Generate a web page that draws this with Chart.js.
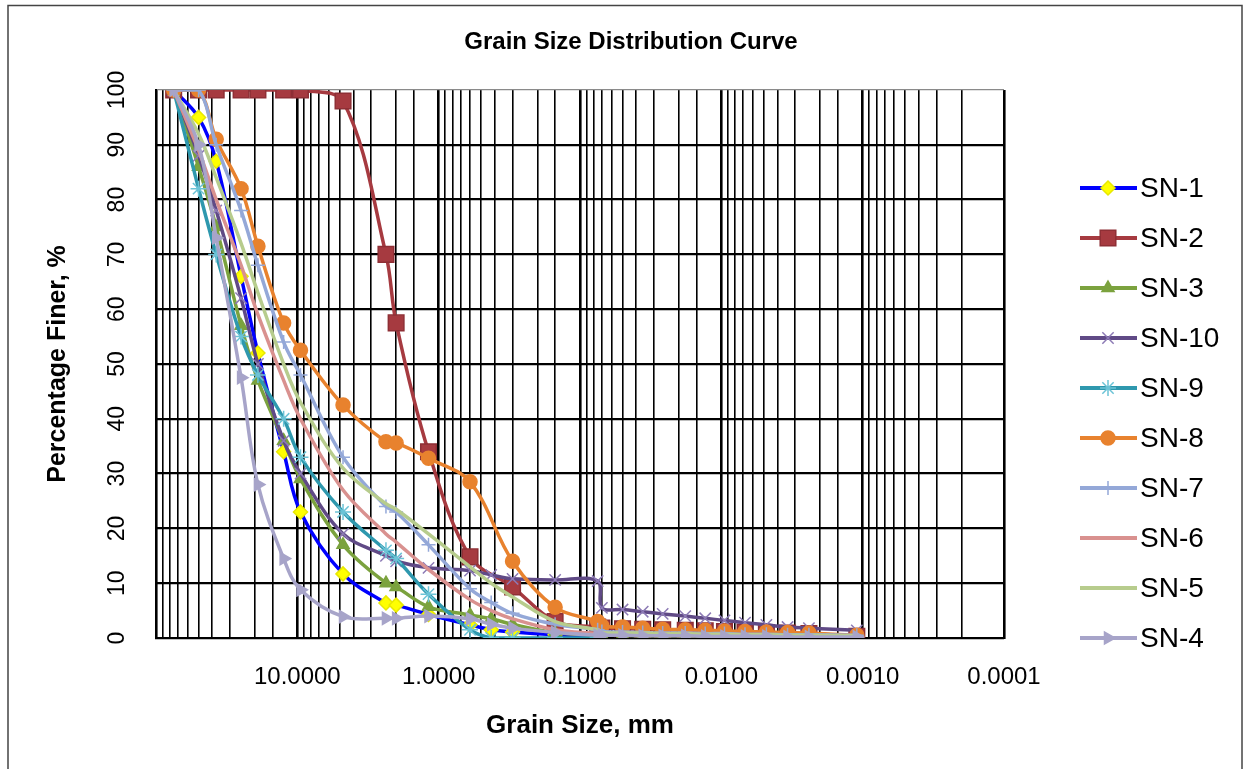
<!DOCTYPE html>
<html>
<head>
<meta charset="utf-8">
<title>Grain Size Distribution Curve</title>
<script src="https://cdn.jsdelivr.net/npm/chart.js@4.4.1/dist/chart.umd.min.js"></script>
<style>
  html, body { margin: 0; padding: 0; background: #fff; }
  #wrap { position: relative; width: 1252px; height: 769px; }
</style>
</head>
<body>
<div id="wrap"><canvas id="gsd"></canvas></div>
<script>
// sieve openings, then hydrometer diameters (mm)
const grainSizeMm = [75, 50, 37.5, 25, 19, 12.5, 9.5, 4.75, 2.36, 2.0, 1.18, 0.6, 0.425, 0.3, 0.15, 0.075,
  0.07, 0.05, 0.036, 0.026, 0.018, 0.013, 0.0095, 0.0068, 0.0048, 0.0034, 0.0024, 0.0011];

// percent finer for each sample, null where not tested
const sn1 = [100, 95, 87, 66, 52, 34, 23, 11.7, 6.4, 6.0, 4.3, 2.4, 1.5, 1.1, 0.6, 0.3,
  null, null, null, null, null, null, null, null, null, null, null, null];
const sn2 = [100, 100, 100, 100, 100, 100, 100, 98, 70, 57.5, 34, 14.8, null, 9.3, 3.0, 2.0,
  1.8, 1.7, 1.6, 1.5, 1.4, 1.3, 1.2, 1.1, 1.0, 0.9, 0.8, 0.3];
const sn3 = [100, 86, 75, 57, 47, 36, 29, 17, 10, 9.3, 5.7, 4.2, 3.5, 2.5, 1.0, 0.5,
  0.5, 0.5, 0.4, 0.4, 0.4, 0.3, 0.3, 0.3, 0.2, 0.2, 0.2, 0.1];
const sn10 = [100, 88, 78, 62, 50, 36, 30, 19, 15, 14, 12.8, 12.3, 11.5, 10.8, 10.6, 10.4,
  5.5, 5.2, 4.8, 4.4, 4.0, 3.6, 3.2, 2.8, 2.4, 2.0, 1.8, 1.4];
const sn9 = [100, 82, 70, 55, 48, 40, 33, 23, 16, 14.5, 8, 1.5, 0, 0, 0, 0,
  null, null, null, null, null, null, null, null, null, null, null, null];
const sn8 = [100, 100, 91, 82, 71.5, 57.5, 52.5, 42.5, 35.8, 35.6, 32.8, 28.5, null, 14, 5.6, 3.0,
  2.2, 2.0, 1.8, 1.6, 1.5, 1.4, 1.3, 1.2, 1.1, 1.0, 0.9, 0.5];
const sn7 = [100, 100, 90, 78, 68, 54, 48, 33, 24, 23, 17, 9, 6.5, 4.5, 2.5, 1.5,
  1.2, 1.1, 1.0, 0.9, 0.9, 0.8, 0.8, 0.7, 0.7, 0.6, 0.6, 0.5];
const sn6 = [100, 89, 80, 68, 59, 47, 40, 27, 19, 17.5, 12.5, 7, 5, 3.5, 1.5, 0.8,
  0.7, 0.7, 0.6, 0.6, 0.5, 0.5, 0.5, 0.4, 0.4, 0.4, 0.3, 0.3];
const sn5 = [100, 92, 84, 72, 63, 50, 43, 31, 24.5, 23.5, 19, 13, 10, 7.5, 3, 1.5,
  1.0, 0.9, 0.9, 0.8, 0.8, 0.7, 0.7, 0.6, 0.6, 0.5, 0.5, 0.4];
const sn4 = [100, 90, 73, 47.5, 28, 14.5, 8.8, 3.9, 3.6, 3.6, 4.0, 3.5, 2.5, 1.8, 1.0, 0.5,
  0.5, 0.5, 0.4, 0.4, 0.4, 0.3, 0.3, 0.3, 0.3, 0.2, 0.2, 0.2];

const FONT = "'Liberation Sans', Arial, sans-serif";
const TITLE = 'Grain Size Distribution Curve';

function pts(values) {
  return grainSizeMm
    .map((d, i) => ({ x: d, y: values[i] }))
    .filter(p => p.y !== null);
}

// label, values, line colour, marker style
const series = [
  { label: 'SN-1', data: sn1, color: '#0000FF', style: 'rectRot', r: 7, fill: '#FFFF00', stroke: '#E8E800' },
  { label: 'SN-2', data: sn2, color: '#A63A40', style: 'rect', r: 11, fill: '#A63A40', stroke: '#8E2F35' },
  { label: 'SN-3', data: sn3, color: '#7BA23E', style: 'triangle', r: 7, fill: '#7BA23E', stroke: '#7BA23E' },
  { label: 'SN-10', data: sn10, color: '#604A86', style: 'crossRot', r: 8, fill: '#7D68A8', stroke: '#8C7AB5' },
  { label: 'SN-9', data: sn9, color: '#2E98AE', style: 'star', r: 8, fill: '#6CC3D6', stroke: '#6CC3D6' },
  { label: 'SN-8', data: sn8, color: '#E8822E', style: 'circle', r: 7, fill: '#E8822E', stroke: '#E8822E' },
  { label: 'SN-7', data: sn7, color: '#94A8D8', style: 'cross', r: 7, fill: '#94A8D8', stroke: '#94A8D8' },
  { label: 'SN-6', data: sn6, color: '#D9918F', style: false, r: 0, fill: '#D9918F', stroke: '#D9918F' },
  { label: 'SN-5', data: sn5, color: '#B7CC8D', style: false, r: 0, fill: '#B7CC8D', stroke: '#B7CC8D' },
  { label: 'SN-4', data: sn4, color: '#A7A4C9', style: 'triangle', r: 7, rot: 90, fill: '#A7A4C9', stroke: '#A7A4C9' }
];

const isDecade = v => {
  const lg = Math.log10(v);
  return Math.abs(lg - Math.round(lg)) < 1e-6;
};

// excel style legend: line sample with the marker on it, plus the title
// centred on the whole chart rather than the plot
const sideLegend = {
  id: 'sideLegend',
  afterDraw(chart) {
    const ctx = chart.ctx;
    ctx.save();
    ctx.fillStyle = '#000';
    ctx.font = 'bold 24px ' + FONT;
    ctx.textAlign = 'center';
    ctx.textBaseline = 'middle';
    ctx.fillText(TITLE, 631, 42);

    series.forEach((s, i) => {
      const y = 188 + i * 50;
      ctx.strokeStyle = s.color;
      ctx.lineWidth = 4;
      ctx.beginPath();
      ctx.moveTo(1080, y);
      ctx.lineTo(1137, y);
      ctx.stroke();
      if (s.style) {
        ctx.fillStyle = s.fill;
        ctx.strokeStyle = s.stroke;
        ctx.lineWidth = 1.5;
        Chart.helpers.drawPoint(ctx, { pointStyle: s.style, radius: s.r, rotation: s.rot || 0, borderWidth: 1.5 }, 1108, y);
      }
      ctx.fillStyle = '#000';
      ctx.font = '28px ' + FONT;
      ctx.textBaseline = 'middle';
      ctx.textAlign = 'left';
      ctx.fillText(s.label, 1140, y + 1);
    });
    ctx.restore();
  }
};

// thin frame round the whole chart
const frame = {
  id: 'frame',
  beforeDraw(chart) {
    const ctx = chart.ctx;
    ctx.save();
    ctx.fillStyle = '#fff';
    ctx.fillRect(0, 0, chart.width, chart.height);
    ctx.strokeStyle = '#444';
    ctx.lineWidth = 1.5;
    ctx.strokeRect(8, 5.5, 1234, 800);
    ctx.restore();
  }
};

new Chart(document.getElementById('gsd'), {
  type: 'line',
  data: {
    datasets: series.map((s, i) => ({
      label: s.label,
      data: pts(s.data),
      borderColor: s.color,
      borderWidth: 3.5,
      backgroundColor: s.fill,
      pointStyle: s.style,
      pointRadius: s.r,
      pointRotation: s.rot || 0,
      pointBackgroundColor: s.fill,
      pointBorderColor: s.stroke,
      pointBorderWidth: 1.5,
      tension: 0.35,
      fill: false,
      order: series.length - 1 - i
    }))
  },
  options: {
    responsive: true,
    maintainAspectRatio: false,
    animation: false,
    layout: { padding: { left: 0, top: 90, right: 248, bottom: 0 } },
    plugins: {
      legend: { display: false },
      tooltip: { enabled: false },
      title: { display: false }
    },
    scales: {
      x: {
        type: 'logarithmic',
        reverse: true,
        min: 0.0001,
        max: 100,
        border: { display: true, color: '#000', width: 2 },
        grid: {
          drawTicks: false,
          color: '#000',
          lineWidth: c => (c.tick && isDecade(c.tick.value) ? 2.6 : 1.6)
        },
        ticks: {
          autoSkip: false,
          maxRotation: 0,
          padding: 25,
          color: '#000',
          font: { family: FONT, size: 24 },
          callback: v => (isDecade(v) && v < 50 ? Number(v).toFixed(4) : '')
        },
        title: {
          display: true,
          text: 'Grain Size, mm',
          color: '#000',
          font: { family: FONT, size: 26, weight: 'bold' },
          padding: { top: 0, bottom: 28 }
        },
        afterFit: s => { s.height = 131; s.paddingLeft = 0; s.paddingRight = 0; }
      },
      y: {
        min: 0,
        max: 100,
        border: { display: true, color: '#000', width: 2 },
        grid: {
          drawTicks: false,
          color: c => (c.tick && c.tick.value === 100 ? '#8a8a8a' : '#000'),
          lineWidth: c => (c.tick && c.tick.value === 100 ? 1.2 : 2.2)
        },
        ticks: {
          stepSize: 10,
          minRotation: 90,
          maxRotation: 90,
          crossAlign: 'center',
          padding: 19,
          color: '#000',
          font: { family: FONT, size: 23 }
        },
        title: {
          display: true,
          text: 'Percentage Finer, %',
          color: '#000',
          font: { family: FONT, size: 25, weight: 'bold' },
          padding: { top: 43, bottom: 0 }
        },
        afterFit: s => { s.width = 156; s.paddingTop = 0; s.paddingBottom = 0; }
      }
    }
  },
  plugins: [frame, sideLegend]
});
</script>
</body>
</html>
